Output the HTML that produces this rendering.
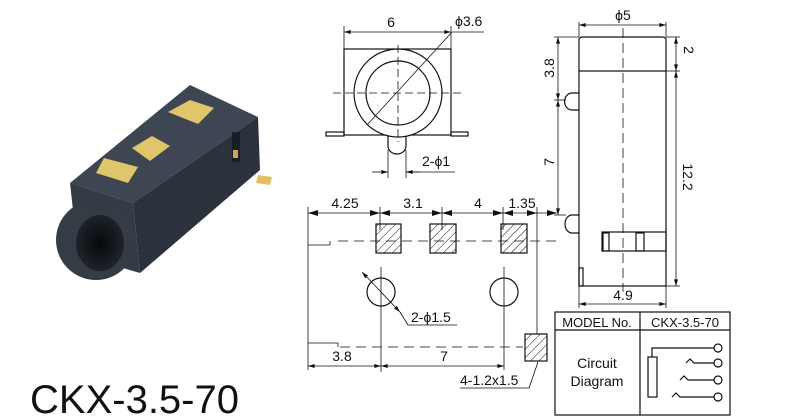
<!DOCTYPE html>
<html><head><meta charset="utf-8"><style>
html,body{margin:0;padding:0;background:#fff;}
svg{display:block}
text{font-family:"Liberation Sans",sans-serif;fill:#111}
</style></head><body>
<svg width="800" height="419" viewBox="0 0 800 419" xmlns="http://www.w3.org/2000/svg">
<defs>
<marker id="a" viewBox="0 0 10 6" refX="10" refY="3" markerWidth="10" markerHeight="4" orient="auto-start-reverse" markerUnits="userSpaceOnUse"><path d="M0,0L10,3L0,6z" fill="#111"/></marker>
<pattern id="h" width="6" height="6" patternUnits="userSpaceOnUse" patternTransform="rotate(45)"><line x1="0" y1="0" x2="0" y2="6" stroke="#111" stroke-width="1"/></pattern>
<radialGradient id="g" cx="0.5" cy="0.5" r="0.5"><stop offset="0" stop-color="#06080b"/><stop offset="1" stop-color="#1e232a"/></radialGradient>
</defs>

<!-- 3D photo -->
<g>
<polygon points="70,183 190,85 258,117 133,203" fill="#3e4654"/>
<polygon points="133,203 258,117 260,170 140,273" fill="#2b323c"/>
<polygon points="70,183 133,203 140,273 78,255" fill="#343b46"/>
<circle cx="96" cy="240" r="40" fill="#353c46"/>
<ellipse cx="100" cy="243" rx="24" ry="28" fill="url(#g)"/>
<polygon points="104,158 138,167 128,183 96,173" fill="#e0c56a"/>
<polygon points="132,148 152,136 170,146 150,161" fill="#e0c56a"/>
<polygon points="168,112 190,100 214,108 198,124" fill="#e0c56a"/>
<rect x="232" y="132" width="8" height="30" fill="#1a1e24"/>
<rect x="233" y="150" width="5" height="8" fill="#c9a94a"/>
<polygon points="258,175 272,177 270,185 256,183" fill="#e0c060"/>
</g>

<text x="30" y="413" font-size="40">CKX-3.5-70</text>

<g stroke="#111" fill="none" stroke-width="1.2">
<rect x="344" y="49" width="107" height="86"/>
<rect x="326" y="132" width="18" height="4"/>
<rect x="451" y="132" width="17" height="4"/>
<circle cx="398" cy="93" r="44" fill="#fff"/>
<circle cx="398" cy="93" r="32"/>
<path d="M388,136V146A9,8 0 0 0 406,146V136"/>
<line x1="333" y1="93" x2="462" y2="93" stroke-dasharray="8,4" stroke-width="0.8"/>
<line x1="398" y1="45" x2="398" y2="142" stroke-dasharray="8,4" stroke-width="0.8"/>
<line x1="344" y1="26" x2="344" y2="49" stroke-width="0.8"/>
<line x1="451" y1="26" x2="451" y2="49" stroke-width="0.8"/>
<line x1="344" y1="32" x2="451" y2="32" marker-start="url(#a)" marker-end="url(#a)" stroke-width="0.8"/>
<line x1="367" y1="125" x2="452" y2="32" stroke-width="0.8"/>
<line x1="452" y1="32" x2="484" y2="32" stroke-width="0.8"/>
<line x1="388" y1="150" x2="388" y2="178" stroke-width="0.8"/>
<line x1="406" y1="150" x2="406" y2="178" stroke-width="0.8"/>
<line x1="372" y1="172" x2="388" y2="172" marker-end="url(#a)" stroke-width="0.8"/>
<line x1="420" y1="172" x2="406" y2="172" marker-end="url(#a)" stroke-width="0.8"/>
<line x1="406" y1="172" x2="455" y2="172" stroke-width="0.8"/>

<line x1="308" y1="207" x2="308" y2="370" stroke-width="0.8"/>
<line x1="308" y1="213" x2="557" y2="213" stroke-width="0.8"/>
<path d="M308,213 l10,-3v6z M380,213l-10,-3v6z M380,213l10,-3v6z M442,213l-10,-3v6z M442,213l10,-3v6z M503,213l-10,-3v6z M503,213l10,-3v6z M537,213l-10,-3v6z M557,213l-10,-3v6z" fill="#111" stroke="none"/>
<line x1="380" y1="207" x2="380" y2="230" stroke-width="0.8"/>
<line x1="442" y1="207" x2="442" y2="230" stroke-width="0.8"/>
<line x1="503" y1="207" x2="503" y2="230" stroke-width="0.8"/>
<line x1="537" y1="207" x2="537" y2="334" stroke-width="0.8"/>
<path d="M308,245H330V241" stroke-width="0.8"/>
<line x1="338" y1="241" x2="562" y2="241" stroke-dasharray="10,6" stroke-width="0.8"/>
<path d="M308,343H338V347" stroke-width="0.8"/>
<line x1="340" y1="347" x2="523" y2="347" stroke-dasharray="10,6" stroke-width="0.8"/>
<rect x="376" y="224" width="25" height="29" fill="url(#h)"/>
<rect x="430" y="224" width="26" height="29" fill="url(#h)"/>
<rect x="501" y="224" width="26" height="29" fill="url(#h)"/>
<rect x="525" y="334" width="22" height="27" fill="url(#h)"/>
<circle cx="381" cy="292" r="14"/>
<circle cx="504" cy="292" r="14"/>
<line x1="381" y1="267" x2="381" y2="372" stroke-width="0.8"/>
<line x1="504" y1="267" x2="504" y2="370" stroke-width="0.8"/>
<line x1="362" y1="272" x2="400" y2="312" marker-start="url(#a)" marker-end="url(#a)" stroke-width="0.8"/>
<path d="M400,312L408,325H457" stroke-width="0.8"/>
<line x1="308" y1="366" x2="381" y2="366" marker-start="url(#a)" marker-end="url(#a)" stroke-width="0.8"/>
<line x1="381" y1="366" x2="504" y2="366" marker-start="url(#a)" marker-end="url(#a)" stroke-width="0.8"/>
<path d="M538,362L529,388H460" stroke-width="0.8"/>

<path d="M579,71V40Q579,37 583,37H662Q666,37 666,40V71"/>
<rect x="579" y="71" width="87" height="215"/>
<rect x="602" y="232" width="64" height="19"/>
<rect x="603" y="233" width="6" height="18"/>
<rect x="636" y="233" width="8" height="18"/>
<rect x="579" y="268" width="4" height="18"/>
<path d="M579,93H572A7,8 0 0 0 572,110H579"/>
<path d="M579,215H572A7,9 0 0 0 572,233H579"/>
<line x1="623" y1="28" x2="623" y2="292" stroke-dasharray="10,5" stroke-width="0.8"/>
<line x1="579" y1="22" x2="579" y2="37" stroke-width="0.8"/>
<line x1="666" y1="22" x2="666" y2="37" stroke-width="0.8"/>
<line x1="579" y1="25" x2="666" y2="25" marker-start="url(#a)" marker-end="url(#a)" stroke-width="0.8"/>
<line x1="666" y1="37" x2="680" y2="37" stroke-width="0.8"/>
<line x1="666" y1="71" x2="680" y2="71" stroke-width="0.8"/>
<line x1="666" y1="286" x2="680" y2="286" stroke-width="0.8"/>
<line x1="676" y1="37" x2="676" y2="71" marker-start="url(#a)" marker-end="url(#a)" stroke-width="0.8"/>
<line x1="676" y1="71" x2="676" y2="286" marker-start="url(#a)" marker-end="url(#a)" stroke-width="0.8"/>
<line x1="554" y1="37" x2="579" y2="37" stroke-width="0.8"/>
<line x1="554" y1="100" x2="566" y2="100" stroke-width="0.8"/>
<line x1="554" y1="215" x2="566" y2="215" stroke-width="0.8"/>
<line x1="558" y1="37" x2="558" y2="100" marker-start="url(#a)" marker-end="url(#a)" stroke-width="0.8"/>
<line x1="558" y1="100" x2="558" y2="215" marker-start="url(#a)" marker-end="url(#a)" stroke-width="0.8"/>
<line x1="579" y1="286" x2="579" y2="308" stroke-width="0.8"/>
<line x1="666" y1="286" x2="666" y2="308" stroke-width="0.8"/>
<line x1="579" y1="304" x2="666" y2="304" marker-start="url(#a)" marker-end="url(#a)" stroke-width="0.8"/>

<rect x="555" y="312" width="175" height="103"/>
<line x1="555" y1="330" x2="730" y2="330"/>
<line x1="640" y1="312" x2="640" y2="415"/>
<rect x="648" y="357" width="9" height="40"/>
<path d="M652,357V348H714"/>
<circle cx="718" cy="348" r="4"/>
<circle cx="718" cy="363" r="4"/>
<circle cx="718" cy="380" r="4"/>
<circle cx="718" cy="397" r="4"/>
<path d="M686,363l4,-4l4,4H714"/>
<path d="M680,380l4,-4l4,4H714"/>
<path d="M672,397l4,-4l4,4H714"/>
</g>

<g font-size="14">
<text x="391" y="27" text-anchor="middle">6</text>
<text x="455" y="26">ϕ3.6</text>
<text x="422" y="166">2-ϕ1</text>
<text x="345" y="208" text-anchor="middle">4.25</text>
<text x="413" y="208" text-anchor="middle">3.1</text>
<text x="478" y="208" text-anchor="middle">4</text>
<text x="522" y="208" text-anchor="middle">1.35</text>
<text x="411" y="322">2-ϕ1.5</text>
<text x="342" y="361" text-anchor="middle">3.8</text>
<text x="444" y="361" text-anchor="middle">7</text>
<text x="460" y="385">4-1.2x1.5</text>
<text x="623" y="20" text-anchor="middle">ϕ5</text>
<text x="623" y="300" text-anchor="middle">4.9</text>
<text transform="translate(684,50) rotate(90)" text-anchor="middle">2</text>
<text transform="translate(683,177) rotate(90)" text-anchor="middle">12.2</text>
<text transform="translate(554,68) rotate(-90)" text-anchor="middle">3.8</text>
<text transform="translate(554,162) rotate(-90)" text-anchor="middle">7</text>
<text x="597" y="327" text-anchor="middle" font-size="13">MODEL No.</text>
<text x="685" y="327" text-anchor="middle" font-size="13">CKX-3.5-70</text>
<text x="597" y="368" text-anchor="middle">Circuit</text>
<text x="597" y="386" text-anchor="middle">Diagram</text>
</g>
</svg>
</body></html>
